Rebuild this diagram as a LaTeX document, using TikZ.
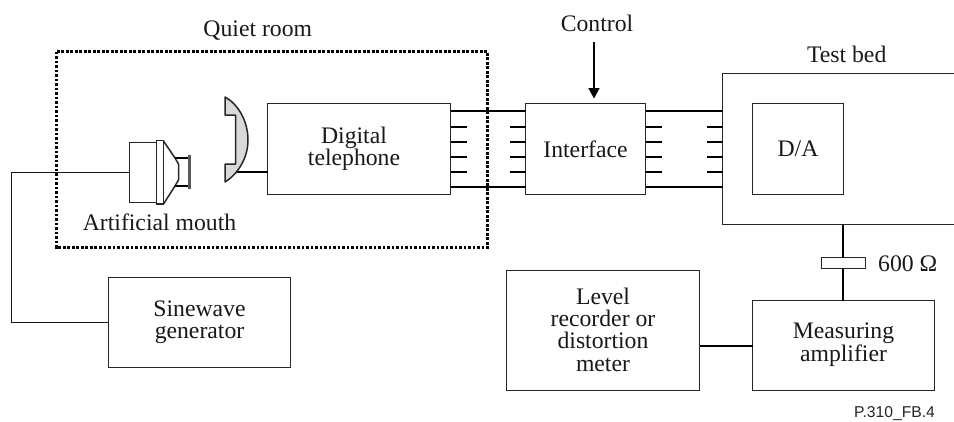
\documentclass[tikz,border=0pt]{standalone}
\usepackage{fontspec}
\setmainfont{Liberation Serif}
\newfontfamily\labelsans{Liberation Sans}
\usetikzlibrary{arrows.meta}
\definecolor{edgegray}{HTML}{262626}
\tikzset{
  x=1pt,y=-1pt,
  txt/.style={font=\fontsize{23.7}{22.3}\selectfont,text=black!90,align=center,inner sep=0pt},
  free/.style={txt,anchor=base},
  boxnode/.style={txt,draw=edgegray,line width=1.5pt,fill=white,rectangle,minimum width=#1,inner sep=0pt,outer sep=0pt},
  wire/.style={draw=black,line width=1.8pt},
  thinwire/.style={draw=black!90,line width=1.5pt},
  outline/.style={draw=edgegray,line width=1.5pt},
  roomline/.style={draw=black,line width=2.7pt,dash pattern=on 2.7pt off 1.8pt},
}
\begin{document}
\begin{tikzpicture}
\useasboundingbox (0,0) rectangle (954,421);
\fill[white] (0,0) rectangle (954,421);
% named free points
\coordinate (corner) at (11.5,172.5);
\coordinate (ctl) at (594,42);
\coordinate (ctltip) at (594,98.5);
\coordinate (tbleft) at (722.5,103.5);
\coordinate (tbbot) at (843,224.5);
\coordinate (hsw) at (236,172);
% quiet room
\draw[roomline] (56.5,51.5) rectangle (487.5,247.5);
% boxes
\node[boxnode=183pt,minimum height=91pt] (dt) at (359,149) {Digital\hspace*{10pt}\\telephone\hspace*{10pt}};
\node[boxnode=120pt,minimum height=91pt] (ifc) at (585.5,149) {Interface};
\node[boxnode=91pt,minimum height=91pt] (da) at (798,149) {D/A};
\node[boxnode=182pt,minimum height=90pt] (sg) at (199.5,322.5) {Sinewave\\generator};
\node[boxnode=193pt,minimum height=120pt] (lv) at (603,330.5) {Level\\recorder or\\distortion\\meter\rule[-2.3pt]{0pt}{1pt}};
\node[boxnode=182pt,minimum height=90pt] (ma) at (843.5,345.5) {Measuring\\amplifier\rule[-6.9pt]{0pt}{1pt}};
% test bed, open to the right
\draw[outline] (954,73.5) -- (722.5,73.5) -- (722.5,224.5) -- (954,224.5);
% bus lines
\foreach \b/\e in {dt/ifc}{
  \draw[wire] ([yshift=-7.5pt]\b.north east) -- ([yshift=-7.5pt]\e.north west);
  \draw[wire] ([yshift=7.5pt]\b.south east) -- ([yshift=7.5pt]\e.south west);
  \foreach \d in {23.5,38.5,53.5,68.5}{
    \draw[wire] ([yshift=-\d pt]\b.north east) -- ++(16,0);
    \draw[wire] ([yshift=-\d pt]\e.north west) -- ++(-16,0);
  }
}
\draw[wire] ([yshift=-7.5pt]ifc.north east) -- ([yshift=-7.5pt]tbleft);
\draw[wire] ([yshift=7.5pt]ifc.south east) -- ([yshift=-83.5pt]tbleft);
\foreach \d in {23.5,38.5,53.5,68.5}{
  \draw[wire] ([yshift=-\d pt]ifc.north east) -- ++(16,0);
  \draw[wire] ([yshift=-\d pt]tbleft) -- ++(-16,0);
}
% control arrow
\draw[line width=1.8pt,-{Triangle[length=10.5pt,width=11pt]}] (ctl) -- (ctltip);
% handset
\draw[wire] (hsw) -- ([yshift=-68.5pt]dt.north west);
\draw[outline,fill=black!15,line join=round] (225,97) .. controls (238,104) and (248,121) .. (248,140)
   .. controls (248,158) and (238,174) .. (225,182) -- (225,164) -- (235.5,164) -- (235.5,115) -- (225,115) -- cycle;
% artificial mouth
\node[draw=edgegray,line width=1.5pt,fill=white,minimum width=27pt,minimum height=60pt,inner sep=0pt,outer sep=0pt] (mb) at (143,172.5) {};
\draw[outline,fill=white] (156.5,140.5) rectangle (163.5,204);
\draw[outline] (163.5,141) -- (175,158) -- (178.5,164) -- (178.5,180) -- (175,186) -- (163.5,204);
\draw[wire] (175,158) -- (189,158);
\draw[wire] (175,186) -- (189,186);
\draw[draw=black!65,line width=3pt] (189,155) -- (189,189);
% generator wire
\draw[thinwire] (mb.west) -- (corner) |- (sg.west);
% 600 ohm
\node[draw=edgegray,line width=1.5pt,fill=white,minimum width=44pt,minimum height=11pt,inner sep=0pt,outer sep=0pt] (res) at (843.5,263) {};
\draw[wire] (tbbot) -- (tbbot |- res.north);
\draw[wire] (tbbot |- res.south) -- (tbbot |- ma.north);
\draw[wire] ([yshift=-0.5pt]ma.west) -- ([yshift=-0.5pt]ma.west -| lv.east);
% free labels
\node[free] (qr) at (257.8,36.7) {Quiet room};
\node[free] (ct) at (597,31.3) {Control};
\node[free] (tb) at (846.7,62) {Test bed};
\node[free] (am) at (159.5,230) {Artificial mouth};
\node[free] (ohm) at (907.7,271) {600 Ω};
\node[anchor=base,inner sep=0pt,font=\labelsans\fontsize{15.7}{18}\selectfont,text=black!85] (fb) at (894.5,417) {P.310\_FB.4};
\end{tikzpicture}
\end{document}
